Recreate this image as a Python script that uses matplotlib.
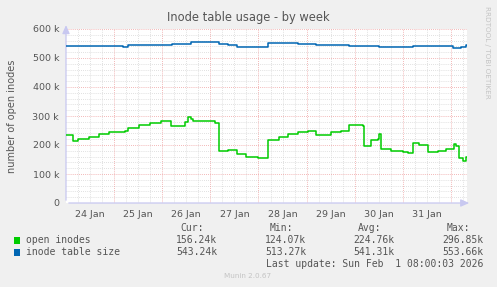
import numpy as np
import matplotlib
matplotlib.use("Agg")
import matplotlib.pyplot as plt

# ---- data (time in hours since 24 Jan 00:00, values in thousands) ----
open_t = [0, 3.5, 6, 11.5, 16.5, 21.5, 29.5, 31, 36.5, 42, 47.5, 52.5, 59.5, 61, 62.5,
          63.5, 74.5, 76.5, 81, 85.5, 90, 96, 100.5, 106, 110.5, 115.5, 120.5, 124.5,
          132, 137, 141, 148, 148.5, 152, 155.5, 156, 157, 162, 168, 170.5, 173, 176,
          180.5, 185.5, 189.5, 193.5, 194.5, 196, 198, 199.5, 200]
open_v = [234, 213, 220, 226, 237, 244, 248, 258, 268, 275, 282, 264, 278, 297, 290,
          282, 275, 179, 183, 169, 160, 155, 218, 226, 237, 244, 250, 236,
          244, 250, 268, 265, 197, 217, 220, 238, 185, 179, 176, 171, 208, 200,
          175, 180, 187, 203, 197, 154, 146, 157, 157]

size_t = [0, 28.5, 31, 53, 62.5, 76.5, 81, 85.5, 100.5, 115.5, 124.5, 141, 156, 173,
          193, 197, 199.5, 200]
size_v = [540, 537, 544, 547, 554, 547, 544, 537, 551, 547, 544, 540, 537, 540,
          533, 537, 544, 544]

day_labels = ["24 Jan", "25 Jan", "26 Jan", "27 Jan", "28 Jan", "29 Jan", "30 Jan", "31 Jan"]
y_ticks = [0, 100, 200, 300, 400, 500, 600]
y_tick_labels = ["0", "100 k", "200 k", "300 k", "400 k", "500 k", "600 k"]

series_names = ["open inodes", "inode table size"]
series_colors = ["#00CC00", "#0066B3"]
cur_vals = ["156.24k", "543.24k"]
min_vals = ["124.07k", "513.27k"]
avg_vals = ["224.76k", "541.31k"]
max_vals = ["296.85k", "553.66k"]

W, H = 497, 287
fig = plt.figure(figsize=(W / 100, H / 100), dpi=100, facecolor="#F0F0F0")
ax = fig.add_axes([66 / W, (H - 203) / H, 401 / W, (203 - 29) / H])
ax.set_facecolor("white")
ax.set_xlim(0, 200)
ax.set_ylim(0, 600)

# grids
for h in np.arange(6, 200, 6):
    if h % 24 != 0:
        ax.axvline(h, color="#D6D6D6", lw=0.6, ls=(0, (1, 1.5)), zorder=1)
for v in np.arange(20, 601, 20):
    if v % 100 != 0:
        ax.axhline(v, color="#D6D6D6", lw=0.6, ls=(0, (1, 1.5)), zorder=1)
for h in np.arange(24, 200, 24):
    ax.axvline(h, color="#EEA0A0", lw=0.6, ls=(0, (1, 1.5)), zorder=2)
for v in range(100, 601, 100):
    ax.axhline(v, color="#EEA0A0", lw=0.6, ls=(0, (1, 1.5)), zorder=2)

ax.plot(open_t, open_v, drawstyle="steps-post", color=series_colors[0], lw=1.1, zorder=5)
ax.plot(size_t, size_v, drawstyle="steps-post", color=series_colors[1], lw=1.1, zorder=5)

for s in ax.spines.values():
    s.set_visible(False)
ax.set_yticks(y_ticks)
ax.set_yticklabels(y_tick_labels)
ax.set_xticks([12 + 24 * i for i in range(len(day_labels))])
ax.set_xticklabels(day_labels)
ax.tick_params(length=0, labelsize=6.8, colors="#555555", pad=5)

# axes lines with arrows
axis_col = "#C8C8F0"
ax.annotate("", xy=(202.5, 0), xytext=(0, 0), xycoords="data",
            arrowprops=dict(arrowstyle="-|>,head_length=0.5,head_width=0.22", color=axis_col, lw=0.9),
            annotation_clip=False)
ax.annotate("", xy=(0, 623), xytext=(0, 0), xycoords="data",
            arrowprops=dict(arrowstyle="-|>,head_length=0.5,head_width=0.22", color=axis_col, lw=0.9),
            annotation_clip=False)

txtc = "#555555"
fig.text(248 / W, 1 - 18 / H, "Inode table usage - by week", ha="center", va="center",
         fontsize=8.3, color=txtc)
fig.text(12 / W, 1 - 116 / H, "number of open inodes", ha="center", va="center",
         rotation=90, fontsize=7, color=txtc)
fig.text(487 / W, 1 - 52 / H, "RRDTOOL / TOBI OETIKER", ha="center", va="center",
         rotation=270, fontsize=5.2, color="#C4C4C4")

mono = "DejaVu Sans Mono"
fs = 7
hy = 1 - 228 / H
for lab, xr in zip(["Cur:", "Min:", "Avg:", "Max:"], [204, 293, 381, 470]):
    fig.text(xr / W, hy, lab, ha="right", va="center", family=mono, fontsize=fs, color=txtc)
rows_y = [240, 252]
for i in range(2):
    yy = 1 - rows_y[i] / H
    fig.patches.append(plt.Rectangle((14 / W, yy - 3.5 / H), 6 / W, 7 / H,
                                     transform=fig.transFigure, facecolor=series_colors[i],
                                     edgecolor="none"))
    fig.text(26 / W, yy, series_names[i], ha="left", va="center", family=mono,
             fontsize=fs, color=txtc)
    for val, xr in zip([cur_vals[i], min_vals[i], avg_vals[i], max_vals[i]], [217, 306, 394, 483]):
        fig.text(xr / W, yy, val, ha="right", va="center", family=mono, fontsize=fs, color=txtc)
fig.text(483 / W, 1 - 264 / H, "Last update: Sun Feb  1 08:00:03 2026", ha="right",
         va="center", family=mono, fontsize=fs, color=txtc)
fig.text(248 / W, 1 - 276 / H, "Munin 2.0.67", ha="center", va="center", fontsize=5.2,
         color="#C4C4C4")

fig.savefig("out.png", dpi=100, facecolor=fig.get_facecolor())
